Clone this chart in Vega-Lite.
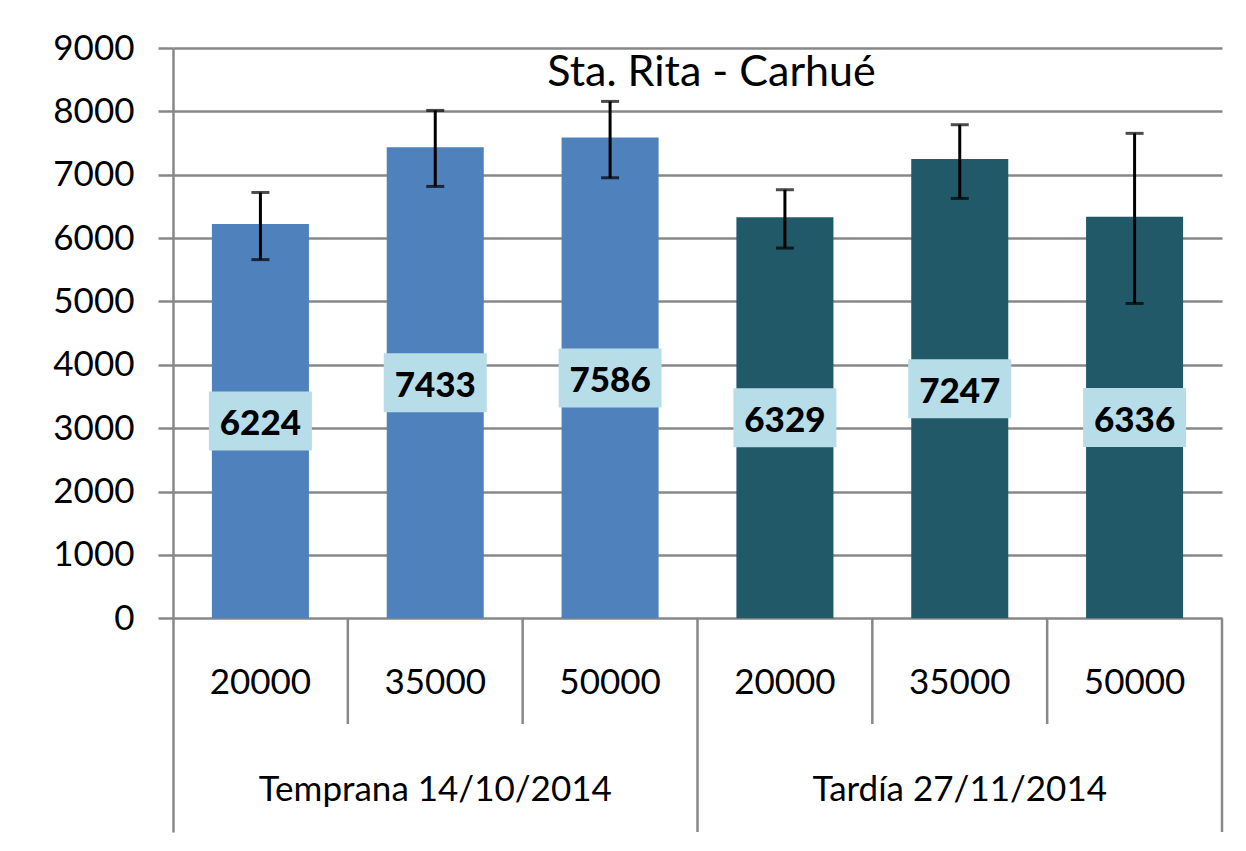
{
  "$schema": "https://vega.github.io/schema/vega-lite/v6.json",
  "autosize": "none",
  "padding": {"left": 173, "top": 48, "right": 24, "bottom": 19},
  "width": 1049,
  "height": 784,
  "background": "white",
  "config": {"font": "Lato", "view": {"stroke": null}, "title": {"fontSize": 43, "font": "Lato", "fontWeight": "normal", "color": "black"}},
  "title": {"text": "Sta. Rita - Carhué", "fontSize": 43, "font": "Lato", "fontWeight": "normal", "color": "black", "anchor": "middle", "dx": 14, "offset": -85, "baseline": "middle"},
  "datasets": {
    "bars": [
      {"key": "T20", "group": "Temprana 14/10/2014", "dose": "20000", "value": 6224, "lo": 5660, "hi": 6720},
      {"key": "T35", "group": "Temprana 14/10/2014", "dose": "35000", "value": 7433, "lo": 6815, "hi": 8015},
      {"key": "T50", "group": "Temprana 14/10/2014", "dose": "50000", "value": 7586, "lo": 6952, "hi": 8157},
      {"key": "D20", "group": "Tardía 27/11/2014", "dose": "20000", "value": 6329, "lo": 5842, "hi": 6763},
      {"key": "D35", "group": "Tardía 27/11/2014", "dose": "35000", "value": 7247, "lo": 6626, "hi": 7789},
      {"key": "D50", "group": "Tardía 27/11/2014", "dose": "50000", "value": 6336, "lo": 4968, "hi": 7653}
    ]
  },
  "data": {"name": "bars"},
  "resolve": {"scale": {"y": "independent"}, "axis": {"y": "independent"}},
  "layer": [
    {
      "encoding": {
        "x": {"field": "key", "type": "nominal", "sort": null, "axis": null,
              "scale": {"domain": ["T20", "T35", "T50", "D20", "D35", "D50"], "paddingInner": 0, "paddingOuter": 0}}
      },
      "layer": [
        {
          "mark": {"type": "bar", "width": {"band": 0.555}},
          "encoding": {
            "y": {"field": "value", "type": "quantitative",
                  "scale": {"domain": [-3374, 9000], "nice": false, "zero": false},
                  "axis": {"values": [0, 1000, 2000, 3000, 4000, 5000, 6000, 7000, 8000, 9000], "title": null, "format": "d",
                           "grid": true, "gridColor": "#888888", "gridWidth": 2.5,
                           "tickSize": 15, "tickColor": "#888888", "tickWidth": 2.5,
                           "domainColor": "#888888", "domainWidth": 2.5,
                           "labelFont": "Lato", "labelFontSize": 35, "labelColor": "black", "labelPadding": 24}},
            "y2": {"datum": 0},
            "color": {"field": "group", "type": "nominal", "legend": null,
                      "scale": {"domain": ["Temprana 14/10/2014", "Tardía 27/11/2014"], "range": ["#4F81BD", "#215968"]}}
          }
        },
        {
          "mark": {"type": "rule", "color": "black", "strokeWidth": 3},
          "encoding": {
            "y": {"field": "lo", "type": "quantitative"},
            "y2": {"field": "hi"}
          }
        },
        {
          "mark": {"type": "tick", "color": "black", "thickness": 3, "size": 18},
          "encoding": {"y": {"field": "lo", "type": "quantitative"}}
        },
        {
          "mark": {"type": "tick", "color": "black", "thickness": 3, "size": 18},
          "encoding": {"y": {"field": "hi", "type": "quantitative"}}
        },
        {
          "transform": [{"filter": "datum.dose != '20000'"}],
          "mark": {"type": "rule", "color": "#888888", "strokeWidth": 2.5},
          "encoding": {
            "x": {"field": "key", "type": "nominal", "bandPosition": 0},
            "y": {"datum": 0, "type": "quantitative"},
            "y2": {"datum": -1669}
          }
        },
        {
          "transform": [{"filter": "datum.key == 'D20'"}],
          "mark": {"type": "rule", "color": "#888888", "strokeWidth": 2.5},
          "encoding": {
            "x": {"field": "key", "type": "nominal", "bandPosition": 0},
            "y": {"datum": 0, "type": "quantitative"},
            "y2": {"datum": -3374}
          }
        },
        {
          "transform": [{"filter": "datum.key == 'D50'"}],
          "mark": {"type": "rule", "color": "#888888", "strokeWidth": 2.5},
          "encoding": {
            "x": {"field": "key", "type": "nominal", "bandPosition": 1},
            "y": {"datum": 0, "type": "quantitative"},
            "y2": {"datum": -3374}
          }
        },
        {
          "mark": {"type": "text", "fontSize": 35, "font": "Lato", "color": "black", "baseline": "middle", "align": "center"},
          "encoding": {
            "y": {"datum": -1022, "type": "quantitative"},
            "text": {"field": "dose"}
          }
        },
        {
          "transform": [{"filter": "datum.dose == '35000'"}],
          "mark": {"type": "text", "fontSize": 35, "font": "Lato", "color": "black", "baseline": "middle", "align": "center"},
          "encoding": {
            "y": {"datum": -2708, "type": "quantitative"},
            "text": {"field": "group"}
          }
        }
      ]
    },
    {
      "encoding": {
        "x": {"field": "key", "type": "nominal", "sort": null, "axis": null},
        "y": {"field": "value", "type": "quantitative", "axis": null,
              "scale": {"domain": [-6748, 18000], "nice": false, "zero": false}}
      },
      "layer": [
        {
          "mark": {"type": "point", "shape": "M-1,-0.573H1V0.573H-1Z", "filled": true, "color": "#B7DEE8", "opacity": 1, "strokeWidth": 0, "size": 10609}
        },
        {
          "mark": {"type": "text", "fontSize": 35, "font": "Lato", "fontWeight": 900, "color": "black", "baseline": "middle", "align": "center", "dy": 3},
          "encoding": {"text": {"field": "value", "type": "quantitative", "format": "d"}}
        }
      ]
    }
  ]
}
